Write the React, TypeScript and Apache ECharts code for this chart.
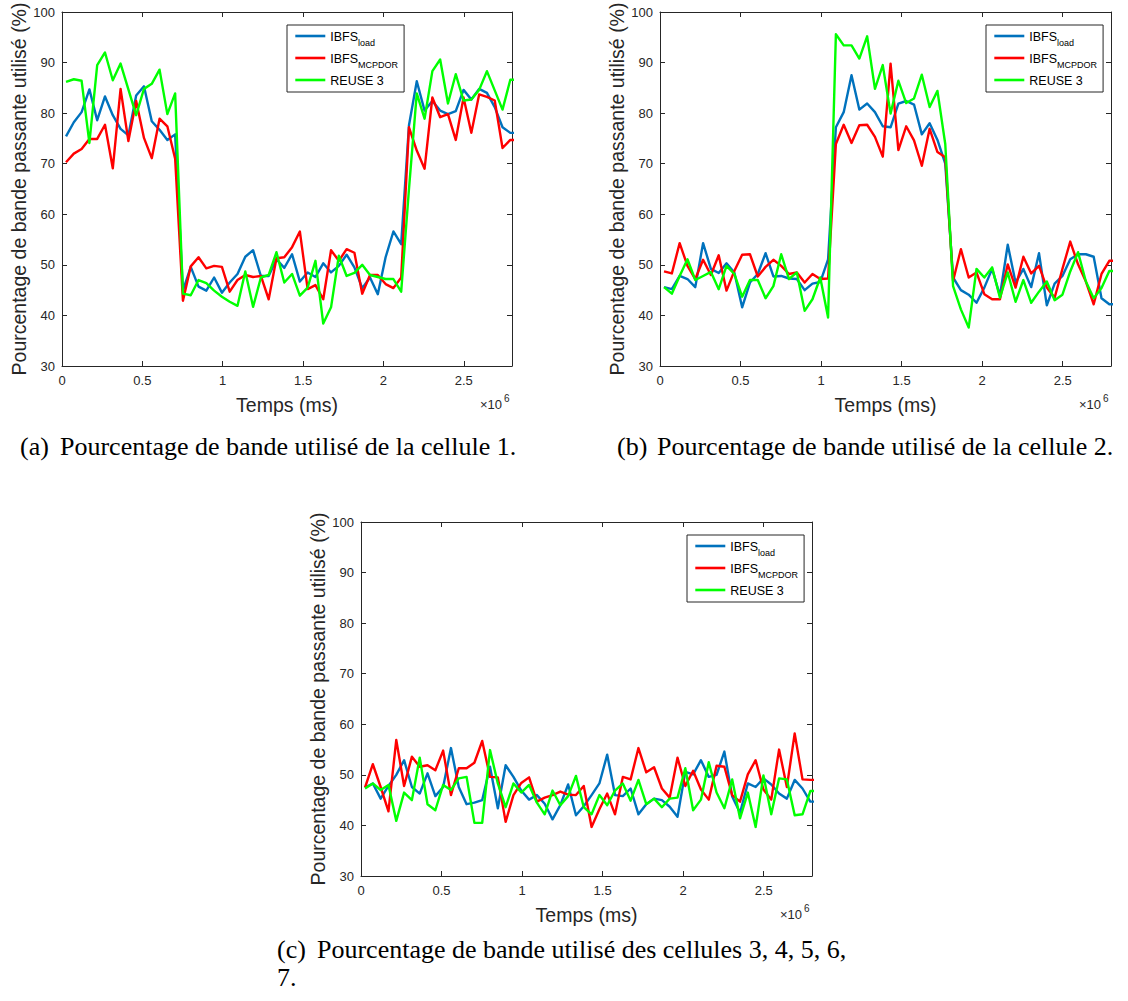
import React, { useEffect, useRef } from 'react';
import * as echarts from 'echarts';

// sampling of the simulation (x axis in units of 10^6 ms)
const T0 = 0.025;
const DT = 0.0485;
const X_MAX = 2.8;
const Y_MIN = 30;
const Y_MAX = 100;

const SERIES_NAMES = ['IBFS_load', 'IBFS_MCPDOR', 'REUSE 3'];
const SERIES_COLORS = ['#0072BD', '#FF0000', '#00FF00'];

// Cell 1
const cell1Load = [
  75.4, 78.2, 80.2, 84.7, 78.6, 83.3, 79.6, 76.9, 75.6, 83.5,
  85.3, 78.4, 76.7, 74.7, 75.8, 44.9, 49.6, 45.7, 44.9, 47.5,
  44.5, 46.5, 48.2, 51.6, 52.9, 47.8, 47.8, 51.1, 49.4, 52.1,
  46.7, 48.5, 47.6, 50.3, 48.5, 49.8, 52.0, 49.5, 45.4, 47.5,
  44.2, 51.5, 56.6, 54.1, 77.6, 86.3, 80.5, 82.4, 80.5, 79.8,
  80.4, 84.6, 82.7, 84.8, 84.0, 81.2, 77.2, 76.1, 76.1,
];
const cell1Mcpdor = [
  70.3, 72.0, 72.9, 74.9, 74.9, 77.7, 69.1, 84.8, 74.5, 82.4,
  75.1, 71.1, 78.9, 77.4, 71.0, 42.9, 49.7, 51.5, 49.3, 49.8,
  49.6, 44.7, 47.0, 48.0, 47.6, 47.8, 43.2, 51.3, 51.5, 53.5,
  56.6, 45.2, 46.0, 43.2, 52.9, 50.8, 53.1, 52.4, 44.3, 48.0,
  48.0, 46.2, 45.4, 47.5, 77.2, 72.6, 69.0, 83.1, 79.2, 79.8,
  74.7, 83.1, 76.1, 83.7, 83.2, 82.5, 73.1, 74.7, 74.7,
];
const cell1Reuse = [
  86.2, 86.7, 86.4, 74.1, 89.5, 92.0, 86.5, 89.8, 84.7, 79.6,
  84.8, 85.8, 88.6, 79.8, 83.9, 44.3, 44.0, 47.0, 46.4, 44.9,
  43.7, 42.7, 41.9, 48.7, 41.7, 47.5, 48.0, 52.5, 46.5, 48.2,
  43.9, 45.5, 50.8, 38.4, 41.6, 51.8, 47.8, 48.4, 50.0, 48.0,
  47.6, 47.2, 47.2, 44.7, 65.0, 83.9, 78.9, 88.3, 90.6, 81.9,
  87.7, 82.5, 82.7, 84.6, 88.3, 84.5, 80.7, 86.6, 86.6,
];

// Cell 2
const cell2Load = [
  45.6, 45.2, 47.8, 47.2, 45.6, 54.3, 49.2, 48.4, 50.3, 48.5,
  41.6, 46.5, 48.2, 52.3, 47.7, 47.8, 47.3, 47.2, 45.0, 46.3,
  46.6, 51.1, 77.2, 80.2, 87.5, 80.7, 81.9, 80.2, 77.4, 77.2,
  81.9, 82.4, 81.7, 75.8, 78.0, 74.7, 70.0, 47.5, 45.0, 44.1,
  42.5, 45.5, 49.2, 43.9, 54.0, 46.5, 49.2, 45.6, 52.3, 42.0,
  46.3, 47.8, 51.1, 52.1, 52.1, 51.6, 43.4, 42.2, 42.2,
];
const cell2Mcpdor = [
  48.7, 48.3, 54.3, 49.8, 47.2, 51.0, 48.0, 51.9, 44.9, 48.8,
  52.0, 52.1, 47.7, 49.6, 51.0, 49.8, 48.2, 48.5, 46.5, 48.2,
  47.2, 47.3, 73.9, 77.7, 74.1, 77.6, 77.7, 75.3, 71.4, 89.8,
  72.7, 77.4, 74.6, 69.6, 76.9, 72.3, 71.3, 46.8, 53.1, 47.5,
  48.5, 44.2, 43.2, 43.2, 50.1, 45.5, 51.6, 48.3, 49.8, 45.5,
  43.5, 49.2, 54.6, 50.1, 46.7, 42.2, 48.2, 50.8, 50.8,
];
const cell2Reuse = [
  45.6, 44.3, 47.8, 51.1, 47.0, 47.8, 48.6, 45.2, 49.8, 48.2,
  43.7, 47.0, 47.0, 43.4, 45.8, 52.1, 47.2, 48.5, 40.9, 43.2,
  47.5, 39.6, 95.6, 93.4, 93.4, 90.8, 95.2, 84.8, 89.5, 79.9,
  86.4, 82.0, 82.9, 87.6, 81.2, 84.4, 73.9, 45.8, 41.2, 37.6,
  49.2, 47.5, 49.5, 43.5, 48.5, 42.7, 47.0, 42.5, 44.7, 46.7,
  43.0, 44.1, 48.7, 52.5, 46.7, 43.4, 45.4, 48.8, 48.8,
];

// Cells 3, 4, 5, 6, 7
const cell3Load = [
  47.5, 48.3, 45.3, 47.8, 50.0, 52.9, 47.6, 46.3, 50.3, 45.8,
  47.6, 55.3, 47.6, 44.2, 44.5, 45.0, 51.6, 43.4, 51.9, 49.6,
  46.9, 45.1, 46.0, 44.3, 41.2, 44.0, 48.1, 42.0, 43.8, 46.0,
  48.3, 54.0, 46.0, 45.8, 47.3, 42.2, 44.2, 45.3, 45.0, 43.7,
  41.7, 50.6, 50.1, 52.9, 49.6, 50.0, 54.6, 45.7, 42.5, 48.3,
  47.6, 49.3, 48.1, 46.3, 45.3, 49.0, 47.3, 44.7, 44.7,
];
const cell3Mcpdor = [
  47.5, 52.1, 47.6, 42.8, 56.9, 47.8, 53.6, 51.6, 51.9, 50.9,
  54.8, 46.0, 51.3, 51.3, 52.4, 56.7, 49.6, 49.5, 40.7, 46.0,
  48.4, 49.5, 44.7, 45.5, 46.0, 46.7, 46.1, 46.0, 47.8, 39.7,
  43.2, 46.3, 42.2, 49.6, 49.1, 55.3, 50.5, 51.5, 47.3, 45.5,
  53.4, 47.8, 50.8, 47.1, 45.1, 51.8, 51.6, 46.0, 44.7, 50.1,
  52.9, 47.1, 45.1, 55.0, 47.6, 58.2, 49.1, 49.0, 49.0,
];
const cell3Reuse = [
  47.3, 48.3, 47.0, 48.0, 40.9, 46.5, 45.0, 53.4, 44.2, 43.0,
  48.0, 47.0, 49.3, 49.6, 40.5, 40.5, 54.9, 48.3, 43.6, 48.3,
  46.5, 48.0, 44.5, 42.2, 46.9, 44.0, 45.8, 49.8, 43.6, 42.2,
  46.0, 44.0, 46.9, 48.3, 44.9, 49.0, 44.2, 45.3, 43.6, 45.3,
  45.5, 51.3, 43.0, 45.1, 52.5, 46.5, 43.4, 49.1, 41.4, 46.5,
  39.7, 49.9, 42.2, 49.3, 49.1, 42.0, 42.2, 46.8, 46.8,
];

const PANELS = [
  [cell1Load, cell1Mcpdor, cell1Reuse],
  [cell2Load, cell2Mcpdor, cell2Reuse],
  [cell3Load, cell3Mcpdor, cell3Reuse],
];

const CAPTION_LABELS = ['(a)', '(b)', '(c)'];
const CAPTION_TEXTS = [
  'Pourcentage de bande utilisé de la cellule 1.',
  'Pourcentage de bande utilisé de la cellule 2.',
  'Pourcentage de bande utilisé des cellules 3, 4, 5, 6,',
];
const CAPTION_CONT = '7.';

const X_LABEL = 'Temps (ms)';
const Y_LABEL = 'Pourcentage de bande passante utilisé (%)';

// layout
const GRIDS = [
  { left: 62, top: 12, width: 450, height: 354 },
  { left: 660, top: 12, width: 451, height: 354 },
  { left: 361, top: 522, width: 451, height: 354 },
];
const LEGEND_POS = [
  { left: 287, top: 25 },
  { left: 986, top: 25 },
  { left: 687, top: 535 },
];

const SANS = '"Liberation Sans", Arial, Helvetica, sans-serif';
const SERIF = '"Liberation Serif", "Times New Roman", Times, serif';
const AX = '#262626';

function buildOption() {
  const grid = GRIDS.map((g) => ({ ...g, containLabel: false }));
  const xAxis: any[] = [];
  const yAxis: any[] = [];
  GRIDS.forEach((_, gi) => {
    const common = {
      gridIndex: gi,
      type: 'value',
      min: 0,
      max: X_MAX,
      interval: 0.5,
      splitLine: { show: false },
      axisLine: { show: true, onZero: false, lineStyle: { color: AX, width: 1 } },
      axisTick: { show: true, inside: true, length: 5, lineStyle: { color: AX, width: 1 } },
    };
    xAxis.push({
      ...common,
      position: 'bottom',
      axisLabel: {
        color: AX,
        fontSize: 13,
        fontFamily: SANS,
        margin: 8,
        formatter: (v: number) => (v > 2.6 ? '' : String(v)),
      },
      name: X_LABEL,
      nameLocation: 'middle',
      nameGap: 29,
      nameTextStyle: { color: AX, fontSize: 19.5, fontFamily: SANS },
    });
    xAxis.push({ ...common, position: 'top', axisLabel: { show: false } });
    const ycommon = {
      gridIndex: gi,
      type: 'value',
      min: Y_MIN,
      max: Y_MAX,
      interval: 10,
      splitLine: { show: false },
      axisLine: { show: true, onZero: false, lineStyle: { color: AX, width: 1 } },
      axisTick: { show: true, inside: true, length: 5, lineStyle: { color: AX, width: 1 } },
    };
    yAxis.push({
      ...ycommon,
      position: 'left',
      axisLabel: { color: AX, fontSize: 13, fontFamily: SANS, margin: 7 },
      name: Y_LABEL,
      nameLocation: 'middle',
      nameGap: 31,
      nameRotate: 90,
      nameTextStyle: { color: AX, fontSize: 19.5, fontFamily: SANS },
    });
    yAxis.push({ ...ycommon, position: 'right', axisLabel: { show: false } });
  });

  const series: any[] = [];
  PANELS.forEach((panel, gi) => {
    panel.forEach((vals, si) => {
      series.push({
        type: 'line',
        name: SERIES_NAMES[si],
        xAxisIndex: gi * 2,
        yAxisIndex: gi * 2,
        data: vals.map((v, i) => [+(T0 + i * DT).toFixed(4), v]),
        symbol: 'none',
        showSymbol: false,
        clip: true,
        silent: true,
        color: SERIES_COLORS[si],
        lineStyle: { color: SERIES_COLORS[si], width: 2.4, join: 'round' },
        itemStyle: { color: SERIES_COLORS[si] },
        z: 2 + si,
      });
    });
  });

  const legendFormatter = (name: string) => {
    if (name === 'IBFS_load') return '{m|IBFS}{s|load}';
    if (name === 'IBFS_MCPDOR') return '{m|IBFS}{s|MCPDOR}';
    return '{m|' + name + '}';
  };
  const legend = LEGEND_POS.map((p) => ({
    ...p,
    orient: 'vertical',
    data: SERIES_NAMES,
    itemWidth: 30,
    itemHeight: 14,
    itemGap: 5,
    padding: [5, 6, 5, 7],
    borderColor: AX,
    borderWidth: 1,
    borderRadius: 0,
    backgroundColor: '#ffffff',
    selectedMode: false,
    itemStyle: { opacity: 0, borderWidth: 0 },
    lineStyle: { width: 2.6 },
    formatter: legendFormatter,
    textStyle: {
      color: '#000',
      fontFamily: SANS,
      rich: {
        m: { fontSize: 12.5, lineHeight: 12, verticalAlign: 'top', fontFamily: SANS, color: '#000' },
        s: { fontSize: 9, lineHeight: 9, verticalAlign: 'top', padding: [8, 0, 0, 0], fontFamily: SANS, color: '#000' },
      },
    },
  }));

  const graphic: any[] = [];
  GRIDS.forEach((g) => {
    const right = g.left + g.width;
    const yb = g.top + g.height + 40;
    graphic.push({
      type: 'text',
      left: right - 32,
      top: yb - 8,
      style: { text: '×10', fontSize: 13, fontFamily: SANS, fill: AX },
    });
    graphic.push({
      type: 'text',
      left: right - 8,
      top: yb - 13,
      style: { text: '6', fontSize: 10, fontFamily: SANS, fill: AX },
    });
  });
  const capPos = [
    { x: 20, y: 446 },
    { x: 617, y: 446 },
    { x: 277, y: 949 },
  ];
  capPos.forEach((c, i) => {
    graphic.push({
      type: 'text',
      x: c.x,
      y: c.y,
      style: { text: CAPTION_LABELS[i], fontSize: 26, fontFamily: SERIF, fill: '#000', verticalAlign: 'middle' },
    });
    graphic.push({
      type: 'text',
      x: c.x + 40,
      y: c.y,
      style: { text: CAPTION_TEXTS[i], fontSize: 26, fontFamily: SERIF, fill: '#000', verticalAlign: 'middle' },
    });
  });
  graphic.push({
    type: 'text',
    x: 277,
    y: 977,
    style: { text: CAPTION_CONT, fontSize: 26, fontFamily: SERIF, fill: '#000', verticalAlign: 'middle' },
  });

  return {
    animation: false,
    backgroundColor: '#ffffff',
    grid,
    xAxis,
    yAxis,
    series,
    legend,
    graphic,
  };
}

export default function App() {
  const ref = useRef<HTMLDivElement>(null);
  useEffect(() => {
    if (!ref.current) return;
    const chart = echarts.init(ref.current, null, { renderer: 'svg' });
    chart.setOption(buildOption() as any);
    return () => chart.dispose();
  }, []);
  return (
    <div
      ref={ref}
      style={{ position: 'absolute', left: 0, top: 0, width: 1128, height: 1001, background: '#fff' }}
    />
  );
}
